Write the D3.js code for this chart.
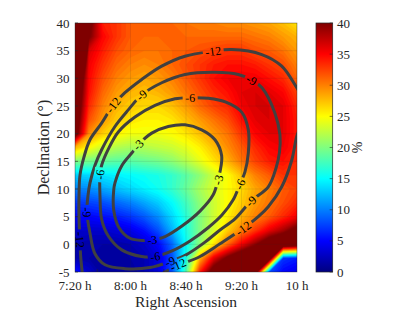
<!DOCTYPE html>
<html>
<head>
<meta charset="utf-8">
<script src="https://cdn.jsdelivr.net/npm/d3@7"></script>
<style>
  body { margin: 0; background: #fff; }
  text { font-family: "Liberation Serif", "DejaVu Serif", serif; fill: #262626; }
</style>
</head>
<body>
<svg id="chart" width="415" height="312"></svg>
<script>
// right ascension in minutes after 0 h, declination in degrees
var raStart = 440, raStep = 10
var decStart = 40, decStep = -2.5
var raTicks = [440, 480, 520, 560, 600]
var raTickLabels = ['7:20 h', '8:00 h', '8:40 h', '9:20 h', '10 h']
var raTickMarks = [456, 504, 552]
var decTicks = [-5, 0, 5, 10, 15, 20, 25, 30, 35, 40]
var cbTicks = [0, 5, 10, 15, 20, 25, 30, 35, 40]

// percent, rows go from dec 40 down to dec -5, columns from 7:20 h to 10 h
// (values above 40 are the saturated dark red parts)
var pct = [
  [70, 42, 34, 33, 31.5, 31, 31, 31, 30.5, 30, 30, 29.5, 29.5, 29, 28.5, 27.5, 26],
  [70, 40.5, 35, 33, 31.5, 31, 31, 31, 31, 31, 31, 31, 31, 30.5, 30, 29, 28],
  [70, 36.5, 34, 32, 31, 30.5, 30.5, 31, 31.5, 32, 32.5, 33, 33, 32, 31.5, 30.5, 29],
  [55, 35.5, 33, 31, 30, 29.5, 30, 31, 32, 33, 34, 34.5, 34.5, 34, 33, 32, 30],
  [48, 35, 32, 30, 29, 28.5, 29, 30, 31.5, 33, 34.5, 35.5, 35.5, 35.5, 34.5, 33.5, 31],
  [46, 34.5, 31, 29, 28, 27.5, 28, 29, 30.5, 32, 33.5, 34.5, 36, 36.5, 36, 35, 32.5],
  [45, 33.5, 30, 28, 27, 26.5, 26.5, 27.5, 29, 31, 32.5, 33.5, 35.5, 36.5, 36.5, 36, 33.5],
  [44, 32, 29, 27, 26, 25.5, 25.5, 26, 27.5, 29, 30.5, 32, 34.5, 36, 36.5, 36, 34],
  [43, 29.5, 27, 25.5, 24.5, 24.5, 24.5, 25, 26, 27.5, 29, 30.5, 33, 35, 36, 36, 34],
  [28, 25, 23, 22, 21.5, 22, 22.5, 23, 24, 25.5, 27.5, 29.5, 31.5, 33.5, 35, 35.5, 34],
  [20, 19.5, 19, 18.5, 18.5, 19, 19.5, 20.5, 22, 24, 26, 28, 30.5, 32.5, 34, 34.5, 33.5],
  [13, 13.5, 14, 14.5, 15, 15.5, 16, 17, 18.5, 20.5, 23, 25, 27.5, 30, 31.5, 33, 33],
  [10, 10.5, 11.5, 12.5, 13.5, 14.5, 15.5, 17, 19, 21.5, 23.5, 25, 26.5, 28.5, 30, 31.5, 32.5],
  [7, 7.5, 8, 9, 10, 11.5, 13, 15, 17.5, 20.5, 23, 25, 27, 29, 30.5, 32, 33.5],
  [5, 5, 5.5, 6, 7, 8.5, 10.5, 13.5, 16.5, 20, 23, 25.5, 28, 30, 31.5, 33.5, 35.5],
  [3, 3, 3, 3.5, 4, 5.5, 8, 12, 16, 20, 23.5, 27, 30, 33, 36, 38.5, 42],
  [2, 1.5, 1.5, 1.5, 2, 3, 5, 9, 15, 20.5, 26, 31, 35.5, 39.5, 44, 46, 44],
  [2, 1.5, 1, 1, 1.5, 2, 3.5, 8, 16, 28, 36, 41, 45, 46, 45, 7, 6],
  [6, 3, 1, 1, 1, 2, 3.5, 8, 18, 34, 43, 46, 46, 44, 8, 5, 4]
]

// contour lines as [ra minutes, dec]
var line3 = [[473.7, 14.2], [480.9, 16.5], [485.6, 18.0], [495.3, 20.1], [507.2, 21.3], [519.3, 21.6], [531.3, 20.7], [540.9, 18.9], [545.7, 16.0], [544.5, 13.1], [543.1, 11.6], [539.5, 8.9], [530.1, 6.0], [517.1, 3.3], [504.9, 1.4], [495.5, 0.8], [489.5, 0.7], [479.6, 1.1], [471.5, 3.1], [467.9, 6.2], [467.9, 9.8], [468.8, 11.1]]
var line6 = [[458.0, 12.6], [458.0, 8.7], [459.2, 4.5], [464.0, 1.5], [473.7, -1.0], [488.1, -2.2], [497.7, -2.2], [509.9, -1.2], [522.9, 0.6], [535.9, 3.0], [545.9, 5.3], [553.9, 8.0], [558.9, 10.9], [562.5, 13.1], [564.9, 16.5], [564.9, 20.7], [560.1, 23.9], [548.8, 25.7], [536.1, 26.4], [522.9, 26.5], [512.1, 26.3], [497.7, 25.1], [483.2, 23.0], [471.2, 20.3], [464.0, 17.2], [459.2, 14.3]]
var line9 = [[488.1, 27.0], [502.5, 29.2], [519.3, 30.7], [540.9, 31.1], [557.7, 30.7], [567.4, 29.7], [574.8, 28.3], [584.1, 23.7], [587.7, 19.8], [587.4, 16.7], [584.9, 13.8], [579.3, 10.4], [566.8, 7.8], [555.3, 4.6], [544.5, 2.6], [533.7, 0.4], [520.0, -1.9], [508.5, -3.1], [494.1, -4.2], [476.0, -4.4], [461.6, -3.7], [454.4, -1.7], [450.8, 2.0], [448.6, 5.8], [449.4, 8.9], [450.8, 11.1], [454.4, 14.3], [459.2, 17.1], [468.8, 21.3], [478.4, 24.3]]
var line12a = [[445.4, -5.5], [444.0, -1.9], [443.6, 0.8], [442.9, 4.4], [442.9, 8.9], [443.6, 12.5], [446.5, 15.8], [450.8, 18.9], [459.2, 21.9], [467.6, 25.2], [476.0, 27.4], [488.1, 29.8], [502.5, 32.2], [519.3, 34.0], [539.7, 34.9], [552.9, 35.2], [574.6, 34.3], [589.0, 32.2], [598.6, 28.8], [602.2, 27.3]]
var line12b = [[602.2, 21.0], [599.8, 19.5], [596.2, 15.2], [589.0, 10.4], [579.3, 6.8], [572.1, 5.0], [561.3, 2.9], [544.5, 0.1], [530.1, -2.2], [520.5, -3.2], [514.2, -3.7], [504.9, -5.0], [499.8, -5.9]]

var labels3 = [[485.6, 18.0], [543.1, 11.6], [495.5, 0.8]]
var labels6 = [[458.0, 12.6], [497.7, -2.2], [558.9, 10.9], [522.9, 26.5]]
var labels9 = [[488.1, 27.0], [567.4, 29.7], [566.8, 7.8], [508.5, -3.1], [448.6, 5.8]]
var labels12 = [[443.6, 0.8], [467.6, 25.2], [539.7, 34.9], [561.3, 2.9], [514.2, -3.7]]

var contourLines = [
  { level: -3, pts: line3, closed: true },
  { level: -6, pts: line6, closed: true },
  { level: -9, pts: line9, closed: true },
  { level: -12, pts: line12a, closed: false },
  { level: -12, pts: line12b, closed: false }
]
var contourLabels = [
  { level: -3, pts: labels3 },
  { level: -6, pts: labels6 },
  { level: -9, pts: labels9 },
  { level: -12, pts: labels12 }
]

// jet colour map
var jetStops = [0, 5, 15, 25, 35, 40]
var jetColors = ['#00007f', '#0000ff', '#00ffff', '#ffff00', '#ff0000', '#7f0000']
var jet = d3.scaleLinear().domain(jetStops).range(jetColors).clamp(true)

var x = d3.scaleLinear().domain([440, 600]).range([75, 297])
var y = d3.scaleLinear().domain([-5, 40]).range([272, 23])

var svg = d3.select('#chart')
var defs = svg.append('defs')
defs.append('clipPath').attr('id', 'plotClip')
  .append('rect').attr('x', 75).attr('y', 23).attr('width', 222).attr('height', 249)

var plot = svg.append('g').attr('clip-path', 'url(#plotClip)')

// heat map as fine filled bands
var nx = pct[0].length, ny = pct.length
var values = [].concat.apply([], pct)
var bands = d3.contours().size([nx, ny]).thresholds(d3.range(0, 40.01, 0.5))(values)
var gridToScreen = d3.geoTransform({
  point: function (gx, gy) {
    this.stream.point(x(raStart + (gx - 0.5) * raStep), y(decStart + (gy - 0.5) * decStep))
  }
})
var bandPath = d3.geoPath(gridToScreen)
plot.append('g')
  .selectAll('path')
  .data(bands)
  .join('path')
  .attr('d', bandPath)
  .attr('fill', function (d) { return jet(Math.min(d.value + 0.25, 40)) })

// faint grid
var grid = plot.append('g').attr('stroke', '#262626').attr('stroke-opacity', 0.18).attr('stroke-width', 0.6)
grid.selectAll('line.v').data(raTicks).join('line').attr('class', 'v')
  .attr('x1', function (d) { return x(d) }).attr('x2', function (d) { return x(d) })
  .attr('y1', 23).attr('y2', 272)
grid.selectAll('line.h').data(decTicks).join('line').attr('class', 'h')
  .attr('y1', function (d) { return y(d) }).attr('y2', function (d) { return y(d) })
  .attr('x1', 75).attr('x2', 297)

// contour lines with gaps for labels
var mask = defs.append('mask').attr('id', 'labelGaps')
  .attr('maskUnits', 'userSpaceOnUse').attr('x', 0).attr('y', 0).attr('width', 415).attr('height', 312)
mask.append('rect').attr('width', 415).attr('height', 312).attr('fill', 'white')

var openLine = d3.line().x(function (d) { return x(d[0]) }).y(function (d) { return y(d[1]) })
  .curve(d3.curveCatmullRom.alpha(0.5))
var closedLine = d3.line().x(function (d) { return x(d[0]) }).y(function (d) { return y(d[1]) })
  .curve(d3.curveCatmullRomClosed.alpha(0.5))

var linePaths = plot.append('g')
  .attr('mask', 'url(#labelGaps)')
  .attr('fill', 'none')
  .attr('stroke', '#404040')
  .attr('stroke-width', 3)
  .attr('stroke-linecap', 'round')
  .selectAll('path')
  .data(contourLines)
  .join('path')
  .attr('d', function (d) { return (d.closed ? closedLine : openLine)(d.pts) })

function nearestOnPath(node, px, py) {
  var L = node.getTotalLength()
  var best = { d: Infinity }
  for (var s = 0; s <= L; s += 0.5) {
    var p = node.getPointAtLength(s)
    var dd = (p.x - px) * (p.x - px) + (p.y - py) * (p.y - py)
    if (dd < best.d) best = { d: dd, s: s, x: p.x, y: p.y }
  }
  var a = node.getPointAtLength(Math.max(best.s - 2, 0))
  var b = node.getPointAtLength(Math.min(best.s + 2, L))
  best.angle = Math.atan2(b.y - a.y, b.x - a.x) * 180 / Math.PI
  return best
}

var labelG = svg.append('g').attr('font-size', 12).attr('text-anchor', 'middle')
contourLabels.forEach(function (lab) {
  var nodes = linePaths.filter(function (d) { return d.level === lab.level }).nodes()
  lab.pts.forEach(function (p) {
    var best = null
    nodes.forEach(function (n) {
      var b = nearestOnPath(n, x(p[0]), y(p[1]))
      if (!best || b.d < best.d) best = b
    })
    var ang = best.angle
    if (ang > 90) ang -= 180
    if (ang < -90) ang += 180
    var tr = 'translate(' + best.x + ',' + best.y + ') rotate(' + ang + ')'
    var t = labelG.append('text').attr('transform', tr).attr('dy', '0.35em')
      .style('fill', '#000').text(String(lab.level))
    var w = t.node().getComputedTextLength()
    mask.append('rect').attr('transform', tr)
      .attr('x', -w / 2 - 2.5).attr('y', -5.5).attr('width', w + 5).attr('height', 11)
      .attr('fill', 'black')
  })
})

// axes frame and ticks
svg.append('rect').attr('x', 75).attr('y', 23).attr('width', 222).attr('height', 249)
  .attr('fill', 'none').attr('stroke', '#262626').attr('stroke-opacity', 0.6).attr('stroke-width', 0.6)
var ticks = svg.append('g').attr('stroke', '#262626').attr('stroke-width', 0.6)
ticks.selectAll('line.xb').data(raTickMarks).join('line').attr('class', 'xb')
  .attr('x1', function (d) { return x(d) }).attr('x2', function (d) { return x(d) })
  .attr('y1', 272).attr('y2', 269)
ticks.selectAll('line.yl').data(decTicks).join('line').attr('class', 'yl')
  .attr('y1', function (d) { return y(d) }).attr('y2', function (d) { return y(d) })
  .attr('x1', 75).attr('x2', 78)

var axisText = svg.append('g').attr('font-size', 13)
axisText.selectAll('text.xt').data(raTicks).join('text').attr('class', 'xt')
  .attr('x', function (d) { return x(d) }).attr('y', 290)
  .attr('text-anchor', 'middle')
  .text(function (d, i) { return raTickLabels[i] })
axisText.selectAll('text.yt').data(decTicks).join('text').attr('class', 'yt')
  .attr('x', 69.5).attr('y', function (d) { return y(d) }).attr('dy', '0.35em')
  .attr('text-anchor', 'end')
  .text(function (d) { return d })

svg.append('text').attr('x', 186).attr('y', 306.5).attr('text-anchor', 'middle')
  .attr('font-size', 15.5).text('Right Ascension')
svg.append('text').attr('transform', 'translate(48.5,147.5) rotate(-90)').attr('text-anchor', 'middle')
  .attr('font-size', 16).text('Declination (°)')

// colour bar
var cb = { x: 316, w: 16.7 }
var cy = d3.scaleLinear().domain([0, 40]).range([272, 23])
var grad = defs.append('linearGradient').attr('id', 'jetGrad')
  .attr('x1', 0).attr('y1', 1).attr('x2', 0).attr('y2', 0)
grad.selectAll('stop').data(jetStops).join('stop')
  .attr('offset', function (d) { return d / 40 })
  .attr('stop-color', function (d) { return jet(d) })
svg.append('rect').attr('x', cb.x).attr('y', 23).attr('width', cb.w).attr('height', 249)
  .attr('fill', 'url(#jetGrad)').attr('stroke', '#262626').attr('stroke-width', 0.7)
svg.append('g').attr('stroke', '#262626').attr('stroke-width', 0.6)
  .selectAll('line').data(cbTicks).join('line')
  .attr('x1', cb.x + cb.w - 3).attr('x2', cb.x + cb.w)
  .attr('y1', function (d) { return cy(d) }).attr('y2', function (d) { return cy(d) })
svg.append('g').attr('font-size', 13)
  .selectAll('text').data(cbTicks).join('text')
  .attr('x', 337).attr('y', function (d) { return cy(d) }).attr('dy', '0.35em')
  .text(function (d) { return d })
svg.append('text').attr('transform', 'translate(362,147.5) rotate(-90)').attr('text-anchor', 'middle')
  .attr('font-size', 14).text('%')
</script>
</body>
</html>
